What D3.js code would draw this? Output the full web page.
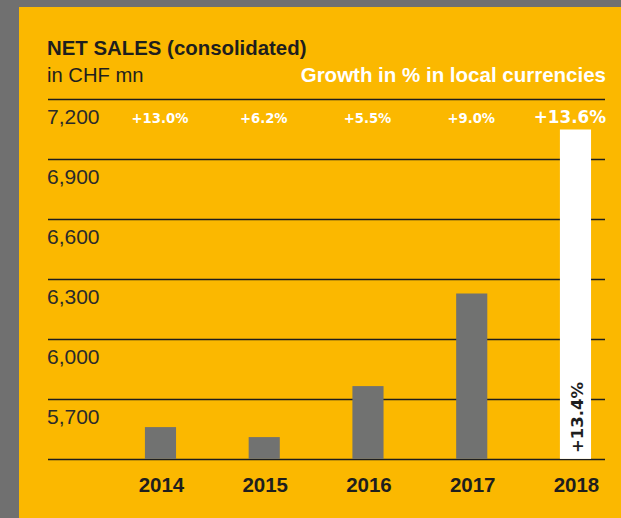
<!DOCTYPE html>
<html>
<head>
<meta charset="utf-8">
<script src="https://cdn.jsdelivr.net/npm/d3@7"></script>
<style>
  html, body { margin: 0; padding: 0; background: #707070; }
  svg { display: block; }
</style>
</head>
<body>
<svg id="chart" width="621" height="518"></svg>
<script>
// ---- data ----
const years = ["2014", "2015", "2016", "2017", "2018"];
const netSales = [5562, 5512, 5767, 6230, 7050];
const growth = ["+13.0%", "+6.2%", "+5.5%", "+9.0%", "+13.6%"];
const tickValues = [5700, 6000, 6300, 6600, 6900, 7200];
const lastBarLabel = "+13.4%";
const title = "NET SALES (consolidated)";
const subtitle = "in CHF mn";
const growthTitle = "Growth in % in local currencies";

// ---- layout ----
const W = 621, H = 518;
const left = 48, right = 605;
const svg = d3.select("#chart");
const YELLOW = "#FBB800", GREY = "#707070", INK = "#1e1e1e";
const sans = "'Liberation Sans', Arial, sans-serif";
const dv = "'DejaVu Sans', sans-serif";

svg.append("rect").attr("x", 0).attr("y", 0).attr("width", W).attr("height", H).attr("fill", GREY);
svg.append("rect").attr("x", 19).attr("y", 7).attr("width", W - 19).attr("height", H - 7).attr("fill", YELLOW);

const x = d3.scaleBand().domain(years).range([108.6, 627.35]).paddingInner(0.7).paddingOuter(0.35);
const y = d3.scaleLinear().domain([5400, 7200]).range([459.5, 99.5]);

// titles
svg.append("text").attr("x", left - 1).attr("y", 55).text(title)
  .attr("font-family", sans).attr("font-weight", "bold").attr("font-size", 20.4).attr("fill", INK);
svg.append("text").attr("x", left - 1).attr("y", 82).text(subtitle)
  .attr("font-family", sans).attr("font-size", 20.2).attr("fill", INK);
svg.append("text").attr("x", 606).attr("y", 82).attr("text-anchor", "end").text(growthTitle)
  .attr("font-family", sans).attr("font-weight", "bold").attr("font-size", 20.5).attr("fill", "#fff");

// gridlines + tick labels
const grid = svg.append("g");
grid.selectAll("line").data(tickValues.concat([5400])).join("line")
  .attr("x1", left).attr("x2", right)
  .attr("y1", d => y(d)).attr("y2", d => y(d))
  .attr("stroke", INK).attr("stroke-width", 1.3);
grid.selectAll("text").data(tickValues).join("text")
  .attr("x", left - 1).attr("y", d => y(d) + 24.5)
  .text(d => d3.format(",")(d))
  .attr("font-family", sans).attr("font-size", 21).attr("fill", "#2a2a2a");

// bars
const data = years.map((yr, i) => ({ yr, v: netSales[i], g: growth[i], last: i === years.length - 1 }));
svg.append("g").selectAll("rect").data(data).join("rect")
  .attr("x", d => x(d.yr)).attr("width", x.bandwidth())
  .attr("y", d => y(d.v)).attr("height", d => y(5400) - y(d.v) - 0.6)
  .attr("fill", d => d.last ? "#ffffff" : "#717271");

// growth labels
svg.append("g").selectAll("text").data(data).join("text")
  .attr("x", d => d.last ? 606 : x(d.yr) + x.bandwidth() / 2 - 0.5)
  .attr("y", 123)
  .attr("text-anchor", d => d.last ? "end" : "middle")
  .text(d => d.g)
  .attr("font-family", dv).attr("font-weight", "bold")
  .attr("font-size", d => d.last ? 16.8 : 13.2).attr("fill", "#fff");

// rotated label in last bar
const lx = x(years[years.length - 1]) + x.bandwidth() / 2 + 8;
svg.append("text")
  .attr("transform", `translate(${lx},453) rotate(-90)`)
  .text(lastBarLabel)
  .attr("font-family", dv).attr("font-weight", "bold").attr("font-size", 16.5).attr("fill", INK);

// year labels
svg.append("g").selectAll("text").data(years).join("text")
  .attr("x", d => x(d) + x.bandwidth() / 2 + 1).attr("y", 492)
  .attr("text-anchor", "middle").text(d => d)
  .attr("font-family", sans).attr("font-weight", "bold").attr("font-size", 20.5).attr("fill", INK);
</script>
</body>
</html>
